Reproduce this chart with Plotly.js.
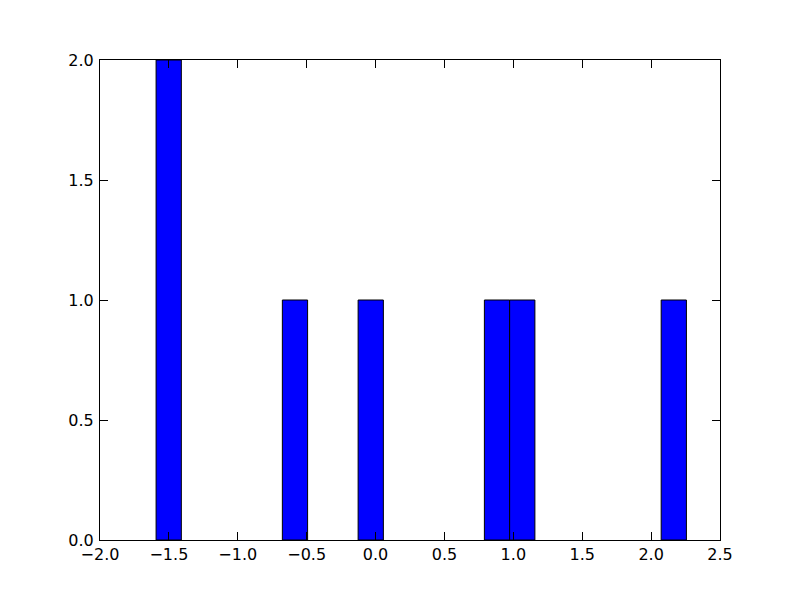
<!DOCTYPE html>
<html>
<head>
<meta charset="utf-8">
<script src="https://cdn.plot.ly/plotly-3.0.1.min.js"></script>
<style>html,body{margin:0;padding:0;background:#fff;}#chart{width:800px;height:600px;}</style>
</head>
<body>
<div id="chart"></div>
<script>
// Sample values (one entry per counted sample)
var samples = [-1.55, -1.46, -0.58, -0.03, 0.88, 1.06, 2.16];
var binStart = -1.593;
var binEnd = 2.256;
var binSize = 0.1833;
var xTicks = [-2.0, -1.5, -1.0, -0.5, 0.0, 0.5, 1.0, 1.5, 2.0, 2.5];
var yTicks = [0.0, 0.5, 1.0, 1.5, 2.0];

var trace = {
  type: 'histogram',
  x: samples,
  autobinx: false,
  xbins: {start: binStart, end: binEnd, size: binSize},
  marker: {color: '#0000ff', line: {color: '#000000', width: 1}},
  hoverinfo: 'none'
};

var axisCommon = {
  showline: true, linecolor: '#000', linewidth: 1, mirror: 'ticks',
  ticks: 'inside', ticklen: 8, tickwidth: 1, tickcolor: '#000',
  showgrid: false, zeroline: false,
  tickfont: {family: 'DejaVu Sans', size: 16, color: '#000'},
  tickformat: '.1f', tickmode: 'array'
};

var layout = {
  width: 800, height: 600,
  margin: {l: 100, r: 80, t: 60, b: 60},
  paper_bgcolor: '#fff', plot_bgcolor: '#fff',
  showlegend: false,
  bargap: 0,
  xaxis: Object.assign({}, axisCommon, {range: [-2, 2.5], tickvals: xTicks, ticklabelstandoff: 0}),
  yaxis: Object.assign({}, axisCommon, {range: [0, 2], tickvals: yTicks, ticklabelstandoff: 2})
};

Plotly.newPlot('chart', [trace], layout, {displayModeBar: false, staticPlot: true});
</script>
</body>
</html>
